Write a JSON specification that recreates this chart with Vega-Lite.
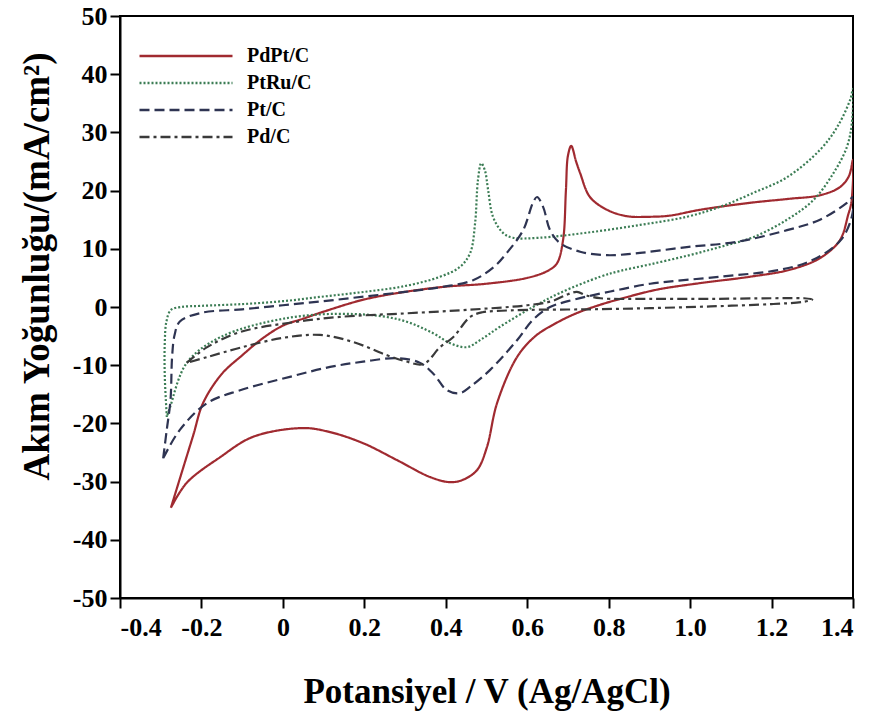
{
  "$schema": "https://vega.github.io/schema/vega-lite/v6.json",
  "autosize": "none",
  "width": 733,
  "height": 582,
  "padding": {"left": 120, "top": 16, "right": 25, "bottom": 115},
  "background": "white",
  "config": {
    "view": {"stroke": "black", "strokeWidth": 2},
    "font": "Liberation Serif",
    "axis": {
      "grid": false,
      "domainColor": "black",
      "domainWidth": 2,
      "tickColor": "black",
      "tickWidth": 2,
      "tickSize": 10,
      "labelFont": "Liberation Serif",
      "labelFontWeight": "bold",
      "labelFontSize": 26,
      "labelColor": "black",
      "titleFont": "Liberation Serif",
      "titleFontWeight": "bold",
      "titleColor": "black"
    }
  },
  "data": {"values": [
    {"s":"PdPt/C","i":1,"x":-0.275,"y":-34.5},{"s":"PdPt/C","i":2,"x":-0.25,"y":-28.8},{"s":"PdPt/C","i":3,"x":-0.22,"y":-22.0},{"s":"PdPt/C","i":4,"x":-0.196,"y":-16.5},{"s":"PdPt/C","i":5,"x":-0.15,"y":-11.5},{"s":"PdPt/C","i":6,"x":-0.1,"y":-8.3},{"s":"PdPt/C","i":7,"x":-0.05,"y":-5.4},{"s":"PdPt/C","i":8,"x":0.0,"y":-3.2},{"s":"PdPt/C","i":9,"x":0.05,"y":-2.0},{"s":"PdPt/C","i":10,"x":0.1,"y":-0.8},{"s":"PdPt/C","i":11,"x":0.2,"y":1.3},{"s":"PdPt/C","i":12,"x":0.3,"y":2.6},{"s":"PdPt/C","i":13,"x":0.4,"y":3.5},{"s":"PdPt/C","i":14,"x":0.5,"y":4.0},{"s":"PdPt/C","i":15,"x":0.6,"y":5.0},{"s":"PdPt/C","i":16,"x":0.65,"y":6.2},{"s":"PdPt/C","i":17,"x":0.673,"y":7.5},{"s":"PdPt/C","i":18,"x":0.688,"y":11.5},{"s":"PdPt/C","i":19,"x":0.695,"y":20},{"s":"PdPt/C","i":20,"x":0.7,"y":26},{"s":"PdPt/C","i":21,"x":0.708,"y":27.7},{"s":"PdPt/C","i":22,"x":0.72,"y":25},{"s":"PdPt/C","i":23,"x":0.73,"y":23.0},{"s":"PdPt/C","i":24,"x":0.754,"y":18.9},{"s":"PdPt/C","i":25,"x":0.796,"y":16.7},{"s":"PdPt/C","i":26,"x":0.845,"y":15.6},{"s":"PdPt/C","i":27,"x":0.9,"y":15.5},{"s":"PdPt/C","i":28,"x":0.95,"y":15.7},{"s":"PdPt/C","i":29,"x":1.024,"y":16.7},{"s":"PdPt/C","i":30,"x":1.147,"y":17.9},{"s":"PdPt/C","i":31,"x":1.245,"y":18.6},{"s":"PdPt/C","i":32,"x":1.319,"y":19.2},{"s":"PdPt/C","i":33,"x":1.368,"y":20.6},{"s":"PdPt/C","i":34,"x":1.39,"y":22.5},{"s":"PdPt/C","i":35,"x":1.4,"y":25.3},{"s":"PdPt/C","i":36,"x":1.396,"y":18},{"s":"PdPt/C","i":37,"x":1.388,"y":15.8},{"s":"PdPt/C","i":38,"x":1.368,"y":11.5},{"s":"PdPt/C","i":39,"x":1.319,"y":8.4},{"s":"PdPt/C","i":40,"x":1.245,"y":6.4},{"s":"PdPt/C","i":41,"x":1.147,"y":5.2},{"s":"PdPt/C","i":42,"x":1.024,"y":4.1},{"s":"PdPt/C","i":43,"x":0.92,"y":3.0},{"s":"PdPt/C","i":44,"x":0.85,"y":1.8},{"s":"PdPt/C","i":45,"x":0.78,"y":0.4},{"s":"PdPt/C","i":46,"x":0.72,"y":-1.1},{"s":"PdPt/C","i":47,"x":0.67,"y":-2.8},{"s":"PdPt/C","i":48,"x":0.62,"y":-5.0},{"s":"PdPt/C","i":49,"x":0.575,"y":-8.6},{"s":"PdPt/C","i":50,"x":0.526,"y":-16.5},{"s":"PdPt/C","i":51,"x":0.501,"y":-24.1},{"s":"PdPt/C","i":52,"x":0.477,"y":-28.0},{"s":"PdPt/C","i":53,"x":0.442,"y":-29.7},{"s":"PdPt/C","i":54,"x":0.41,"y":-30.1},{"s":"PdPt/C","i":55,"x":0.361,"y":-29.2},{"s":"PdPt/C","i":56,"x":0.28,"y":-26.3},{"s":"PdPt/C","i":57,"x":0.197,"y":-23.4},{"s":"PdPt/C","i":58,"x":0.116,"y":-21.5},{"s":"PdPt/C","i":59,"x":0.049,"y":-20.8},{"s":"PdPt/C","i":60,"x":-0.073,"y":-22.3},{"s":"PdPt/C","i":61,"x":-0.154,"y":-25.8},{"s":"PdPt/C","i":62,"x":-0.236,"y":-30.2},{"s":"PdPt/C","i":63,"x":-0.275,"y":-34.5},

    {"s":"PtRu/C","i":1,"x":-0.285,"y":-18.9},{"s":"PtRu/C","i":2,"x":-0.29,"y":-12},{"s":"PtRu/C","i":3,"x":-0.29,"y":-6},{"s":"PtRu/C","i":4,"x":-0.286,"y":-2.5},{"s":"PtRu/C","i":5,"x":-0.275,"y":-0.5},{"s":"PtRu/C","i":6,"x":-0.25,"y":0.0},{"s":"PtRu/C","i":7,"x":-0.2,"y":0.2},{"s":"PtRu/C","i":8,"x":-0.1,"y":0.5},{"s":"PtRu/C","i":9,"x":0.0,"y":1.0},{"s":"PtRu/C","i":10,"x":0.1,"y":1.8},{"s":"PtRu/C","i":11,"x":0.2,"y":2.6},{"s":"PtRu/C","i":12,"x":0.3,"y":3.6},{"s":"PtRu/C","i":13,"x":0.386,"y":5.2},{"s":"PtRu/C","i":14,"x":0.435,"y":6.9},{"s":"PtRu/C","i":15,"x":0.46,"y":9.3},{"s":"PtRu/C","i":16,"x":0.472,"y":14.4},{"s":"PtRu/C","i":17,"x":0.479,"y":21.8},{"s":"PtRu/C","i":18,"x":0.487,"y":24.7},{"s":"PtRu/C","i":19,"x":0.496,"y":23.5},{"s":"PtRu/C","i":20,"x":0.504,"y":20.1},{"s":"PtRu/C","i":21,"x":0.516,"y":15.5},{"s":"PtRu/C","i":22,"x":0.541,"y":12.7},{"s":"PtRu/C","i":23,"x":0.565,"y":11.9},{"s":"PtRu/C","i":24,"x":0.631,"y":11.9},{"s":"PtRu/C","i":25,"x":0.75,"y":12.8},{"s":"PtRu/C","i":26,"x":0.877,"y":14.1},{"s":"PtRu/C","i":27,"x":0.992,"y":15.5},{"s":"PtRu/C","i":28,"x":1.073,"y":17.2},{"s":"PtRu/C","i":29,"x":1.155,"y":19.6},{"s":"PtRu/C","i":30,"x":1.238,"y":22.3},{"s":"PtRu/C","i":31,"x":1.319,"y":27.0},{"s":"PtRu/C","i":32,"x":1.361,"y":30.9},{"s":"PtRu/C","i":33,"x":1.393,"y":35.6},{"s":"PtRu/C","i":34,"x":1.4,"y":37.5},{"s":"PtRu/C","i":35,"x":1.397,"y":31.5},{"s":"PtRu/C","i":36,"x":1.385,"y":27.5},{"s":"PtRu/C","i":37,"x":1.352,"y":23.0},{"s":"PtRu/C","i":38,"x":1.303,"y":18.4},{"s":"PtRu/C","i":39,"x":1.238,"y":15.0},{"s":"PtRu/C","i":40,"x":1.155,"y":12.0},{"s":"PtRu/C","i":41,"x":1.073,"y":10.3},{"s":"PtRu/C","i":42,"x":0.992,"y":8.8},{"s":"PtRu/C","i":43,"x":0.9,"y":7.3},{"s":"PtRu/C","i":44,"x":0.828,"y":6.2},{"s":"PtRu/C","i":45,"x":0.779,"y":5.2},{"s":"PtRu/C","i":46,"x":0.68,"y":2.4},{"s":"PtRu/C","i":47,"x":0.614,"y":0.0},{"s":"PtRu/C","i":48,"x":0.533,"y":-3.4},{"s":"PtRu/C","i":49,"x":0.484,"y":-5.7},{"s":"PtRu/C","i":50,"x":0.452,"y":-6.9},{"s":"PtRu/C","i":51,"x":0.41,"y":-6.2},{"s":"PtRu/C","i":52,"x":0.369,"y":-4.5},{"s":"PtRu/C","i":53,"x":0.288,"y":-2.2},{"s":"PtRu/C","i":54,"x":0.172,"y":-1.2},{"s":"PtRu/C","i":55,"x":0.01,"y":-1.9},{"s":"PtRu/C","i":56,"x":-0.154,"y":-5.2},{"s":"PtRu/C","i":57,"x":-0.236,"y":-9.6},{"s":"PtRu/C","i":58,"x":-0.277,"y":-17.2},{"s":"PtRu/C","i":59,"x":-0.285,"y":-18.9},

    {"s":"Pt/C","i":1,"x":-0.294,"y":-26.0},{"s":"Pt/C","i":2,"x":-0.285,"y":-21},{"s":"Pt/C","i":3,"x":-0.276,"y":-16},{"s":"Pt/C","i":4,"x":-0.272,"y":-8.5},{"s":"Pt/C","i":5,"x":-0.266,"y":-4.8},{"s":"Pt/C","i":6,"x":-0.253,"y":-2.5},{"s":"Pt/C","i":7,"x":-0.2,"y":-1.0},{"s":"Pt/C","i":8,"x":-0.1,"y":-0.4},{"s":"Pt/C","i":9,"x":0.0,"y":0.3},{"s":"Pt/C","i":10,"x":0.1,"y":1.0},{"s":"Pt/C","i":11,"x":0.2,"y":1.8},{"s":"Pt/C","i":12,"x":0.3,"y":2.6},{"s":"Pt/C","i":13,"x":0.386,"y":3.4},{"s":"Pt/C","i":14,"x":0.467,"y":4.6},{"s":"Pt/C","i":15,"x":0.52,"y":7.0},{"s":"Pt/C","i":16,"x":0.55,"y":9.3},{"s":"Pt/C","i":17,"x":0.59,"y":13.2},{"s":"Pt/C","i":18,"x":0.614,"y":17.9},{"s":"Pt/C","i":19,"x":0.624,"y":18.9},{"s":"Pt/C","i":20,"x":0.639,"y":17.2},{"s":"Pt/C","i":21,"x":0.656,"y":13.2},{"s":"Pt/C","i":22,"x":0.68,"y":11.0},{"s":"Pt/C","i":23,"x":0.73,"y":9.5},{"s":"Pt/C","i":24,"x":0.796,"y":8.9},{"s":"Pt/C","i":25,"x":0.877,"y":9.3},{"s":"Pt/C","i":26,"x":0.992,"y":10.3},{"s":"Pt/C","i":27,"x":1.115,"y":11.2},{"s":"Pt/C","i":28,"x":1.238,"y":13.2},{"s":"Pt/C","i":29,"x":1.319,"y":15.0},{"s":"Pt/C","i":30,"x":1.385,"y":17.9},{"s":"Pt/C","i":31,"x":1.4,"y":18.9},{"s":"Pt/C","i":32,"x":1.397,"y":15.5},{"s":"Pt/C","i":33,"x":1.37,"y":11.5},{"s":"Pt/C","i":34,"x":1.302,"y":8.1},{"s":"Pt/C","i":35,"x":1.221,"y":6.4},{"s":"Pt/C","i":36,"x":1.073,"y":5.2},{"s":"Pt/C","i":37,"x":0.902,"y":4.0},{"s":"Pt/C","i":38,"x":0.828,"y":3.0},{"s":"Pt/C","i":39,"x":0.779,"y":2.3},{"s":"Pt/C","i":40,"x":0.7,"y":1.0},{"s":"Pt/C","i":41,"x":0.656,"y":0.0},{"s":"Pt/C","i":42,"x":0.614,"y":-2.2},{"s":"Pt/C","i":43,"x":0.575,"y":-5.7},{"s":"Pt/C","i":44,"x":0.509,"y":-10.8},{"s":"Pt/C","i":45,"x":0.46,"y":-13.7},{"s":"Pt/C","i":46,"x":0.435,"y":-14.8},{"s":"Pt/C","i":47,"x":0.403,"y":-14.3},{"s":"Pt/C","i":48,"x":0.37,"y":-11.5},{"s":"Pt/C","i":49,"x":0.337,"y":-9.6},{"s":"Pt/C","i":50,"x":0.28,"y":-8.8},{"s":"Pt/C","i":51,"x":0.197,"y":-9.4},{"s":"Pt/C","i":52,"x":0.116,"y":-10.3},{"s":"Pt/C","i":53,"x":0.017,"y":-12.0},{"s":"Pt/C","i":54,"x":-0.105,"y":-14.3},{"s":"Pt/C","i":55,"x":-0.186,"y":-16.5},{"s":"Pt/C","i":56,"x":-0.253,"y":-21.1},{"s":"Pt/C","i":57,"x":-0.294,"y":-26.0},

    {"s":"Pd/C","i":1,"x":-0.236,"y":-9.6},{"s":"Pd/C","i":2,"x":-0.186,"y":-6.9},{"s":"Pd/C","i":3,"x":-0.105,"y":-4.3},{"s":"Pd/C","i":4,"x":0.017,"y":-2.7},{"s":"Pd/C","i":5,"x":0.14,"y":-1.7},{"s":"Pd/C","i":6,"x":0.3,"y":-1.1},{"s":"Pd/C","i":7,"x":0.45,"y":-0.5},{"s":"Pd/C","i":8,"x":0.6,"y":0.3},{"s":"Pd/C","i":9,"x":0.66,"y":1.0},{"s":"Pd/C","i":10,"x":0.7,"y":2.2},{"s":"Pd/C","i":11,"x":0.722,"y":2.6},{"s":"Pd/C","i":12,"x":0.745,"y":2.0},{"s":"Pd/C","i":13,"x":0.78,"y":1.5},{"s":"Pd/C","i":14,"x":0.9,"y":1.4},{"s":"Pd/C","i":15,"x":1.05,"y":1.4},{"s":"Pd/C","i":16,"x":1.2,"y":1.5},{"s":"Pd/C","i":17,"x":1.28,"y":1.5},{"s":"Pd/C","i":18,"x":1.3,"y":1.3},{"s":"Pd/C","i":19,"x":1.28,"y":0.9},{"s":"Pd/C","i":20,"x":1.2,"y":0.5},{"s":"Pd/C","i":21,"x":1.05,"y":0.1},{"s":"Pd/C","i":22,"x":0.9,"y":-0.2},{"s":"Pd/C","i":23,"x":0.75,"y":-0.4},{"s":"Pd/C","i":24,"x":0.6,"y":-0.5},{"s":"Pd/C","i":25,"x":0.52,"y":-0.7},{"s":"Pd/C","i":26,"x":0.49,"y":-0.9},{"s":"Pd/C","i":27,"x":0.46,"y":-1.7},{"s":"Pd/C","i":28,"x":0.418,"y":-5.2},{"s":"Pd/C","i":29,"x":0.386,"y":-6.9},{"s":"Pd/C","i":30,"x":0.345,"y":-9.8},{"s":"Pd/C","i":31,"x":0.3,"y":-9.3},{"s":"Pd/C","i":32,"x":0.256,"y":-8.3},{"s":"Pd/C","i":33,"x":0.172,"y":-6.0},{"s":"Pd/C","i":34,"x":0.091,"y":-4.8},{"s":"Pd/C","i":35,"x":0.0,"y":-5.3},{"s":"Pd/C","i":36,"x":-0.105,"y":-7.0},{"s":"Pd/C","i":37,"x":-0.186,"y":-8.6},{"s":"Pd/C","i":38,"x":-0.236,"y":-9.6}
  ]},
  "mark": {"type": "line", "interpolate": "catmull-rom", "strokeWidth": 2.2, "clip": true},
  "encoding": {
    "x": {
      "field": "x", "type": "quantitative",
      "scale": {"domain": [-0.4, 1.4], "nice": false, "zero": false},
      "axis": {
        "values": [-0.4, -0.2, 0, 0.2, 0.4, 0.6, 0.8, 1.0, 1.2, 1.4],
        "labelExpr": "datum.value == 0 ? '0' : replace(format(datum.value, '.1f'), '\u2212', '-')",
        "labelPadding": 6,
        "title": "Potansiyel / V (Ag/AgCl)",
        "titleFontSize": 35,
        "titlePadding": 34
      }
    },
    "y": {
      "field": "y", "type": "quantitative",
      "scale": {"domain": [-50, 50], "nice": false, "zero": false},
      "axis": {
        "values": [-50, -40, -30, -20, -10, 0, 10, 20, 30, 40, 50],
        "labelExpr": "replace(datum.label, '\u2212', '-')",
        "labelPadding": 3,
        "title": "Akım Yoğunluğu/(mA/cm²)",
        "titleFontSize": 37,
        "titleAngle": -90,
        "titleAlign": "center",
        "titleBaseline": "middle",
        "titleX": -83,
        "titleY": 250
      }
    },
    "color": {
      "field": "s", "type": "nominal",
      "scale": {"domain": ["PdPt/C", "PtRu/C", "Pt/C", "Pd/C"], "range": ["#a02a30", "#3c7d55", "#2e3452", "#3a3a3a"]},
      "legend": {
        "title": null,
        "orient": "none",
        "legendX": 55,
        "legendY": 29,
        "symbolType": "M-5,0H5",
        "symbolSize": 346,
        "symbolStrokeWidth": 2.5,
        "labelFont": "Liberation Serif",
        "labelFontWeight": "bold",
        "labelFontSize": 20,
        "labelColor": "black",
        "labelOffset": 50,
        "rowPadding": 6
      }
    },
    "strokeDash": {
      "field": "s", "type": "nominal",
      "scale": {"domain": ["PdPt/C", "PtRu/C", "Pt/C", "Pd/C"], "range": [[1, 0], [2, 2], [10, 5], [10, 4, 3, 4]]},
      "legend": {
        "title": null,
        "orient": "none",
        "legendX": 55,
        "legendY": 29
      }
    },
    "order": {"field": "i", "type": "quantitative"}
  }
}
